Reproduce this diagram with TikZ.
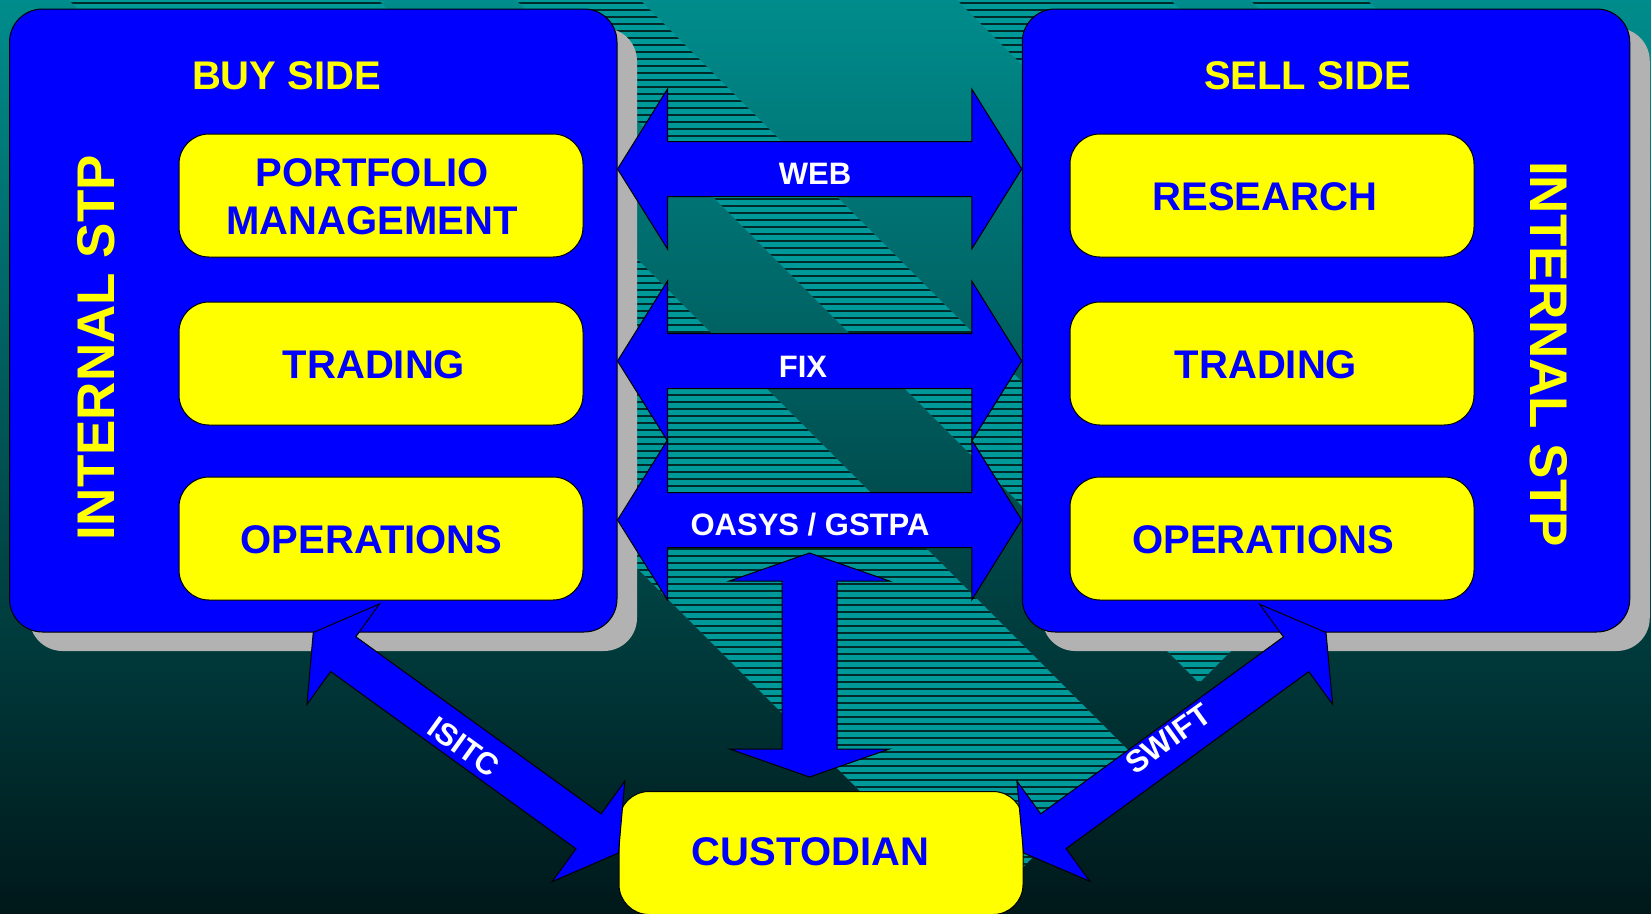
\documentclass[tikz,border=0pt]{standalone}
\usepackage{fontspec}
\setmainfont{Liberation Sans}
\usetikzlibrary{calc}
\definecolor{bgtop}{RGB}{0,140,140}
\definecolor{bgmid}{RGB}{0,88,88}
\definecolor{bgbot}{RGB}{0,24,26}
\definecolor{hatchlight}{RGB}{0,153,153}
\definecolor{hatchline}{RGB}{0,42,42}
\definecolor{pblue}{RGB}{0,0,255}
\definecolor{pyellow}{RGB}{255,255,0}
\definecolor{pshadow}{RGB}{178,178,178}

% block double arrow: #1 start, #2 end, #3 half shaft width, #4 head length, #5 half head width
\newcommand\blockarrow[5]{%
  \coordinate (ba1) at ($(#1)!#4!(#2)$);
  \coordinate (ba2) at ($(#2)!#4!(#1)$);
  \filldraw[barrow] (#1) -- ($(ba1)!#5!90:(#2)$) -- ($(ba1)!#3!90:(#2)$)
    -- ($(ba2)!#3!-90:(#1)$) -- ($(ba2)!#5!-90:(#1)$) -- (#2)
    -- ($(ba2)!#5!90:(#1)$) -- ($(ba2)!#3!90:(#1)$)
    -- ($(ba1)!#3!-90:(#2)$) -- ($(ba1)!#5!-90:(#2)$) -- cycle;}

\newcommand\hatchband[1]{%
  \begin{scope}
    \clip #1;
    \fill[hatchlight] (-10,-60) rectangle (1700,1000);
    \foreach \k in {0,...,132} {\draw[hatchline, line width=1.4pt] (-10,\k*7+3) -- (1700,\k*7+3);}
  \end{scope}}

\begin{document}
\begin{tikzpicture}[x=1pt,y=-1pt,
  shadowbox/.style={fill=pshadow, rounded corners=33pt, minimum width=607.5pt, minimum height=623pt, inner sep=0pt},
  bigbox/.style={draw=black, line width=1pt, fill=pblue, rounded corners=33pt, minimum width=607.5pt, minimum height=623pt, inner sep=0pt},
  ybox/.style={draw=black, line width=1pt, fill=pyellow, rounded corners=30pt, minimum width=404pt, minimum height=123pt, inner sep=0pt},
  barrow/.style={fill=pblue, draw=black, line width=1pt, line join=miter},
  ylabel/.style={text=pyellow, font=\bfseries\fontsize{40}{47.7}\selectfont, inner sep=0pt, anchor=base},
  blabel/.style={text=pblue, font=\bfseries\fontsize{40}{47.7}\selectfont, inner sep=0pt, anchor=base},
  wlabel/.style={text=white, font=\bfseries\fontsize{31}{37}\selectfont, inner sep=0pt, anchor=base},
  stplabel/.style={text=pyellow, font=\bfseries\fontsize{53}{60}\selectfont, inner sep=0pt, anchor=base}]
\useasboundingbox (0,0) rectangle (1651,913);
% background
\shade[top color=bgtop, middle color=bgmid, bottom color=bgbot] (0,0) rectangle (1651,913);
\hatchband{(19,-50) -- (979.5,910.5) -- (1134,756) -- (328,-50) -- cycle}
\hatchband{(466,-50) -- (1199,683) -- (1261,621) -- (590,-50) -- cycle}
\hatchband{(907,-50) -- (1419.5,462.5) -- (1528.5,353.5) -- (1120,-50) -- cycle}
\hatchband{(1200,-50) -- (1566,316) -- (1624.5,257.5) -- (1317,-50) -- cycle}

% big boxes with shadows
\node[shadowbox] (buysh) at (333.25,339.5) {};
\node[shadowbox] (sellsh) at (1346,339.5) {};
\node[bigbox] (buy) at (313.25,320.5) {};
\node[bigbox] (sell) at (1326,320.5) {};

% inner boxes
\node[ybox] (pm) at (381,195.5) {};
\node[ybox] (trb) at (381,363.5) {};
\node[ybox] (opb) at (381,538.5) {};
\node[ybox] (res) at (1272,195.5) {};
\node[ybox] (trs) at (1272,363.5) {};
\node[ybox] (ops) at (1272,538.5) {};
\node[ybox] (cust) at (821,853) {};

% labels
\node[ylabel] (tbuy) at (286.5,89.3) {BUY SIDE};
\node[ylabel] (tsell) at (1307.5,89) {SELL SIDE};
\node[blabel, anchor=center, align=center] (tpm) at (372,196.7) {PORTFOLIO\\MANAGEMENT};
\node[blabel] (ttrb) at (374,378.3) {TRADING};
\node[blabel] (topb) at (371.5,553.3) {OPERATIONS};
\node[blabel] (tres) at (1264.8,210) {RESEARCH};
\node[blabel] (ttrs) at (1266,378.3) {TRADING};
\node[blabel] (tops) at (1263,553.3) {OPERATIONS};
\node[blabel] (tcust) at (810.5,865) {CUSTODIAN};
\node[stplabel, rotate=90] (stpl) at (114,348) {INTERNAL STP};
\node[stplabel, rotate=-90] (stpr) at (1530,354) {INTERNAL STP};

% connectors
\coordinate (webA) at (buy.east |- 0,169);
\coordinate (webB) at (sell.west |- 0,169);
\coordinate (fixA) at (buy.east |- 0,361);
\coordinate (fixB) at (sell.west |- 0,361);
\coordinate (oasA) at (buy.east |- 0,520);
\coordinate (oasB) at (sell.west |- 0,520);
\coordinate (vA) at (809.5,553);
\coordinate (vB) at (809.5,777);
\blockarrow{webA}{webB}{27.5pt}{50pt}{80pt}
\blockarrow{fixA}{fixB}{27.5pt}{50pt}{80pt}
\blockarrow{oasA}{oasB}{27.5pt}{50pt}{80pt}
\blockarrow{vA}{vB}{27.5pt}{28pt}{80pt}
\blockarrow{buy.south}{cust.west}{21.5pt}{37pt}{62pt}
\blockarrow{sell.south}{cust.east}{21.5pt}{37pt}{62pt}

\node[wlabel] (tweb) at (815,184) {WEB};
\node[wlabel] (tfix) at (803,377) {FIX};
\node[wlabel] (toas) at (810,535) {OASYS / GSTPA};
\node[wlabel, anchor=center, rotate=-35.8] (tisitc) at (464,747) {ISITC};
\node[wlabel, anchor=center, rotate=35.8] (tswift) at (1168,739) {SWIFT};
\end{tikzpicture}
\end{document}
